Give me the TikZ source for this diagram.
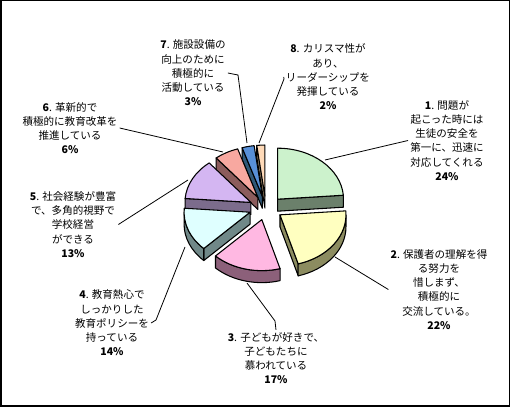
\documentclass[tikz,border=0pt]{standalone}
\usepackage{fontspec}
\setmainfont{Noto Sans CJK JP}
\definecolor{grtop}{HTML}{CCF2CC}
\definecolor{grside}{HTML}{6B806B}
\definecolor{yetop}{HTML}{FFFFC0}
\definecolor{yeside}{HTML}{8C8C60}
\definecolor{pktop}{HTML}{FFB8E2}
\definecolor{pkside}{HTML}{8C607A}
\definecolor{cytop}{HTML}{DFFFFF}
\definecolor{cyside}{HTML}{708888}
\definecolor{lvtop}{HTML}{D4B6F2}
\definecolor{lvside}{HTML}{7C6C8C}
\definecolor{sltop}{HTML}{F8A8A0}
\definecolor{slside}{HTML}{8C5C5C}
\definecolor{bltop}{HTML}{5890D8}
\definecolor{blside}{HTML}{305878}
\definecolor{pctop}{HTML}{FFDAB8}
\definecolor{pcside}{HTML}{A08868}
% one exploded slice: start, end (degrees clockwise from top), top colour, side colour
\newcommand{\pieslice}[4]{%
  \pgfmathsetmacro{\angA}{90-#1}%
  \pgfmathsetmacro{\angB}{90-#2}%
  \pgfmathsetmacro{\angM}{(\angA+\angB)/2}%
  \pgfmathtruncatemacro{\faceA}{sin(#1)<-0.01}%
  \pgfmathtruncatemacro{\faceB}{sin(#2)>0.01}%
  \pgfmathsetmacro{\outS}{90-max(#1,90)}%
  \pgfmathsetmacro{\outE}{90-min(#2,270)}%
  \pgfmathtruncatemacro{\outOn}{\outS>\outE}%
  \begin{scope}[shift={(\angM:17 and 12)}]
    \ifnum\faceA=1 \filldraw[fill=#4] (0,0) -- (\angA:66 and 51) -- ++(0,-12) -- (0,-12) -- cycle; \fi
    \ifnum\faceB=1 \filldraw[fill=#4] (0,0) -- (\angB:66 and 51) -- ++(0,-12) -- (0,-12) -- cycle; \fi
    \ifnum\outOn=1 \filldraw[fill=#4] (\outS:66 and 51)
      arc[start angle=\outS, end angle=\outE, x radius=66, y radius=51] -- ++(0,-12)
      arc[start angle=\outE, end angle=\outS, x radius=66, y radius=51] -- cycle; \fi
    \filldraw[fill=#3] (0,0) -- (\angA:66 and 51)
      arc[start angle=\angA, end angle=\angB, x radius=66, y radius=51] -- cycle;
  \end{scope}}
\begin{document}
\begin{tikzpicture}[x=0.75pt,y=0.75pt,
    lbl/.style={align=center, inner sep=1.5pt, font=\fontsize{7.9}{10.65}\selectfont},
    leader/.style={line width=0.6pt}]
  \useasboundingbox (0,0) rectangle (512,408);
  \draw[line width=1.2pt] (0.8,2) rectangle (509.5,407.3);

  % pie, back slices first
  \begin{scope}[shift={(266,200)}, line width=0.8pt, line join=round]
    \pieslice{352.87}{360}{pctop}{pcside}
    \pieslice{342.18}{352.87}{bltop}{blside}
    \pieslice{320.79}{342.18}{sltop}{slside}
    \pieslice{0}{85.54}{grtop}{grside}
    \pieslice{274.46}{320.79}{lvtop}{lvside}
    \pieslice{224.55}{274.46}{cytop}{cyside}
    \pieslice{85.54}{163.96}{yetop}{yeside}
    \pieslice{163.96}{224.55}{pktop}{pkside}
  \end{scope}

  % labels
  \node[lbl] (l1) at (447,267.5) {{\bfseries 1}. 問題が\\起こった時には\\生徒の安全を\\第一に、迅速に\\対応してくれる\\{\bfseries 24\%}};
  \node[lbl] (l2) at (439,118.5) {{\bfseries 2}. 保護者の理解を得\\る努力を\\惜しまず、\\積極的に\\交流している。\\{\bfseries 22\%}};
  \node[lbl] (l3) at (276,50) {{\bfseries 3}. 子どもが好きで、\\子どもたちに\\慕われている\\{\bfseries 17\%}};
  \node[lbl] (l4) at (112,85) {{\bfseries 4}. 教育熱心で\\しっかりした\\教育ポリシーを\\持っている\\{\bfseries 14\%}};
  \node[lbl] (l5) at (73,183.5) {{\bfseries 5}. 社会経験が豊富\\で、多角的視野で\\学校経営\\ができる\\{\bfseries 13\%}};
  \node[lbl] (l6) at (70,280) {{\bfseries 6}. 革新的で\\積極的に教育改革を\\推進している\\{\bfseries 6\%}};
  \node[lbl] (l7) at (193,335) {{\bfseries 7}. 施設設備の\\向上のために\\積極的に\\活動している\\{\bfseries 3\%}};
  \node[lbl] (l8) at (328,331) {{\bfseries 8}. カリスマ性が\\あり、\\リーダーシップを\\発揮している\\{\bfseries 2\%}};

  % leader lines
  \coordinate (q1) at (325,248);
  \coordinate (q2) at (335,151);
  \coordinate (q3) at (247,125);
  \coordinate (q4) at (185,161);
  \coordinate (q5) at (188,228);
  \coordinate (q6) at (223,256);
  \coordinate (q7) at (247,265);
  \coordinate (q8) at (259,265);
  \draw[leader] (q1) -- (l1.west);
  \draw[leader] (q2) -- (l2.west);
  \draw[leader] (q3) -- (275,87) -- (l3.north);
  \draw[leader] (q4) -- (156,88) -- (l4.east);
  \draw[leader] (q5) -- (l5.east);
  \draw[leader] (q6) -- (l6.east);
  \draw[leader] (q7) -- (238,333) -- (l7.east);
  \draw[leader] (q8) -- (284,329) -- (l8.west);
\end{tikzpicture}
\end{document}
